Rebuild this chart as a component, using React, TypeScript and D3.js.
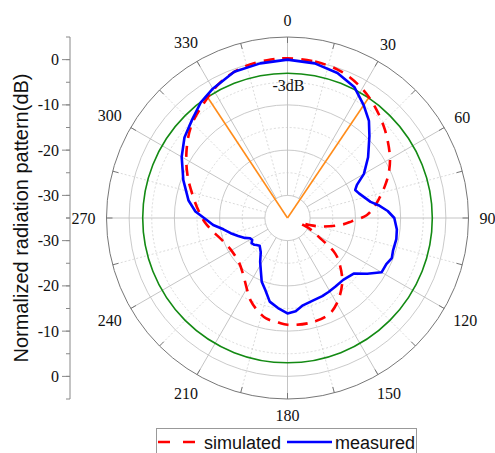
import React from "react";
import * as d3 from "d3";

const W = 495;
const H = 453;

// angular tick labels (degrees)
const angleTicks = [0, 30, 60, 90, 120, 150, 180, 210, 240, 270, 300, 330];
// radial axis tick labels (dB)
const dbTicks = [0, -10, -20, -30];
const dbMinorTicks = [5, 0, -5, -10, -15, -20, -25, -30, -35];
const solidRings = [-30, -20, -10, 0];
const dottedRings = [-25, -15, -5];

// simulated (red dashed)
const simAngles = [0, 10, 20, 30, 38, 48, 59, 66, 72, 78, 83, 88, 93, 97, 104, 108, 111, 116, 121, 126.6, 132, 140, 150, 157, 168, 180, 185, 192, 198, 204, 210, 218, 228, 242, 250, 261, 267, 274, 281, 293, 304, 314, 325, 334, 344, 354];
const simValues = [0.3, 0.1, -0.5, -2.0, -3.7, -6.0, -8.6, -10.5, -12.4, -14.3, -15.8, -17.5, -20.8, -22.9, -27.2, -30, -32, -29.5, -27, -21.9, -19.4, -16.2, -13.2, -11.8, -11.3, -11.4, -11.8, -12.3, -13.5, -15, -17, -19.1, -20.5, -20.6, -19.9, -18, -16.7, -15.4, -14, -11, -8.1, -5.5, -3.4, -1.5, -0.2, 0.2];

// measured (blue solid)
const measAngles = [0, 10, 19, 27, 34, 40, 45, 53, 60, 64.5, 67.5, 71, 75, 79, 82, 86, 90, 96, 101, 107, 111, 115, 120, 125, 130, 138, 145, 151, 156, 163, 170, 175, 180, 186, 192, 197, 202, 207, 212, 218, 225, 229, 231, 235, 238, 241.6, 245, 250, 255, 260, 264.6, 269, 274, 280, 290, 300, 308, 316, 323, 330, 340, 350];
const measValues = [0, -0.3, -1.1, -2.5, -4.9, -7.0, -9.4, -12.7, -15.5, -18.0, -18.8, -18.3, -17.4, -16.3, -14.7, -12.8, -11.4, -10.7, -10.5, -10.6, -10.3, -10.9, -11.0, -13.5, -15.9, -16.6, -16.5, -16.3, -16.1, -15.9, -15.4, -14.3, -13.9, -15, -16.1, -18.3, -19.8, -22.0, -23.6, -25.4, -26.3, -25.9, -25.6, -25.3, -25.8, -25.6, -24.6, -23.4, -22, -20.6, -18.5, -17, -14.6, -12.8, -10.5, -8.0, -6.1, -4.7, -3.1, -2.0, -0.6, -0.3];

// -3 dB beamwidth markers
const halfPowerLevel = -3;
const beamEdges = [-33.5, 34];

const legendLabels = ["simulated", "measured"];

const cx = 287.5;
const cy = 218;
const R = 181;

export default function App() {
  const r = d3.scaleLinear().domain([-35, 5]).range([0, R]);
  const rad = (deg: number) => (deg * Math.PI) / 180;
  const px = (deg: number, rr: number) => cx + rr * Math.sin(rad(deg));
  const py = (deg: number, rr: number) => cy - rr * Math.cos(rad(deg));

  const simData = simAngles.map((a, i) => [rad(a), r(simValues[i])] as [number, number]);
  const measData = measAngles.map((a, i) => [rad(a), r(measValues[i])] as [number, number]);

  const simLine = d3.lineRadial<[number, number]>().curve(d3.curveCatmullRomClosed.alpha(0.5))(simData) || "";
  const measLine = d3.lineRadial<[number, number]>().curve(d3.curveLinearClosed)(measData) || "";

  const spokes = d3.range(0, 360, 15);
  const serif = "'Liberation Serif', 'Times New Roman', serif";
  const sans = "'Liberation Sans', Arial, sans-serif";

  const labelPos = (a: number, text: string) => {
    const w = text.length * 8;
    const h = 11;
    const s = Math.abs(Math.sin(rad(a)));
    const c = Math.abs(Math.cos(rad(a)));
    const rr = 192 + 0.5 * s * w + 0.5 * c * h;
    return [px(a, rr), py(a, rr)];
  };

  return (
    <svg width={W} height={H} style={{ position: "absolute", left: 0, top: 0, background: "#fff" }}>
      {/* rings */}
      {dottedRings.map((d) => (
        <circle key={"d" + d} cx={cx} cy={cy} r={r(d)} fill="none" stroke="#d0d0d0" strokeWidth={0.8} strokeDasharray="2,2" />
      ))}
      {solidRings.map((d) => (
        <circle key={"s" + d} cx={cx} cy={cy} r={r(d)} fill="none" stroke="#c4c4c4" strokeWidth={0.9} />
      ))}
      {/* spokes */}
      {spokes.map((a) => (
        <line
          key={"sp" + a}
          x1={px(a, r(-30))}
          y1={py(a, r(-30))}
          x2={px(a, R)}
          y2={py(a, R)}
          stroke={a % 30 === 0 ? "#bdbdbd" : "#d0d0d0"}
          strokeWidth={a % 30 === 0 ? 0.9 : 0.8}
          strokeDasharray={a % 30 === 0 ? undefined : "2,2"}
        />
      ))}
      {/* outer circle */}
      <circle cx={cx} cy={cy} r={R} fill="none" stroke="#777" strokeWidth={1} />
      {spokes.map((a) => (
        <line key={"tk" + a} x1={px(a, R)} y1={py(a, R)} x2={px(a, R - 6)} y2={py(a, R - 6)} stroke="#777" strokeWidth={1} />
      ))}
      {/* angle labels */}
      {angleTicks.map((a) => {
        const t = String(a);
        const [x, y] = labelPos(a, t);
        return (
          <text key={"al" + a} x={x} y={y} dy="0.35em" textAnchor="middle" fontFamily={serif} fontSize={16} fill="#111">
            {t}
          </text>
        );
      })}
      {/* -3 dB circle */}
      <circle cx={cx} cy={cy} r={r(halfPowerLevel)} fill="none" stroke="#138a13" strokeWidth={1.6} />
      {beamEdges.map((a) => (
        <line key={"be" + a} x1={cx} y1={cy} x2={px(a, r(halfPowerLevel))} y2={py(a, r(halfPowerLevel))} stroke="#ff8c1a" strokeWidth={1.6} />
      ))}
      <text x={cx + 1} y={91} textAnchor="middle" fontFamily={serif} fontSize={16} fill="#111">
        -3dB
      </text>
      {/* curves */}
      <path d={simLine} transform={`translate(${cx},${cy})`} fill="none" stroke="#ff0000" strokeWidth={2.6} strokeDasharray="11,8" />
      <path d={measLine} transform={`translate(${cx},${cy})`} fill="none" stroke="#0000ff" strokeWidth={2.6} strokeLinejoin="round" />
      {/* left dB axis */}
      <line x1={70} y1={cy - R} x2={70} y2={cy + R} stroke="#888" strokeWidth={1} />
      {dbMinorTicks.map((d) => (
        <g key={"mt" + d}>
          <line x1={70} x2={66} y1={cy - r(d)} y2={cy - r(d)} stroke="#888" />
          <line x1={70} x2={66} y1={cy + r(d)} y2={cy + r(d)} stroke="#888" />
        </g>
      ))}
      {dbTicks.map((d) => (
        <g key={"dt" + d}>
          <line x1={70} x2={62} y1={cy - r(d)} y2={cy - r(d)} stroke="#888" />
          <line x1={70} x2={62} y1={cy + r(d)} y2={cy + r(d)} stroke="#888" />
          <text x={59} y={cy - r(d)} dy="0.35em" textAnchor="end" fontFamily={serif} fontSize={16} fill="#111">
            {String(d)}
          </text>
          <text x={59} y={cy + r(d)} dy="0.35em" textAnchor="end" fontFamily={serif} fontSize={16} fill="#111">
            {String(d)}
          </text>
        </g>
      ))}
      <text transform={`translate(28,${cy}) rotate(-90)`} textAnchor="middle" fontFamily={sans} fontSize={20} fill="#111">
        Normalized radiation pattern(dB)
      </text>
      {/* legend */}
      <rect x={156.5} y={428.5} width={260} height={32} fill="#fff" stroke="#999" strokeWidth={1} />
      <line x1={158} x2={197} y1={442} y2={442} stroke="#ff0000" strokeWidth={2.6} strokeDasharray="12,13" />
      <text x={204} y={448.5} fontFamily={sans} fontSize={18} fill="#111">
        {legendLabels[0]}
      </text>
      <line x1={287} x2={332} y1={442} y2={442} stroke="#0000ff" strokeWidth={2.6} />
      <text x={335} y={448.5} fontFamily={sans} fontSize={18} fill="#111">
        {legendLabels[1]}
      </text>
    </svg>
  );
}
